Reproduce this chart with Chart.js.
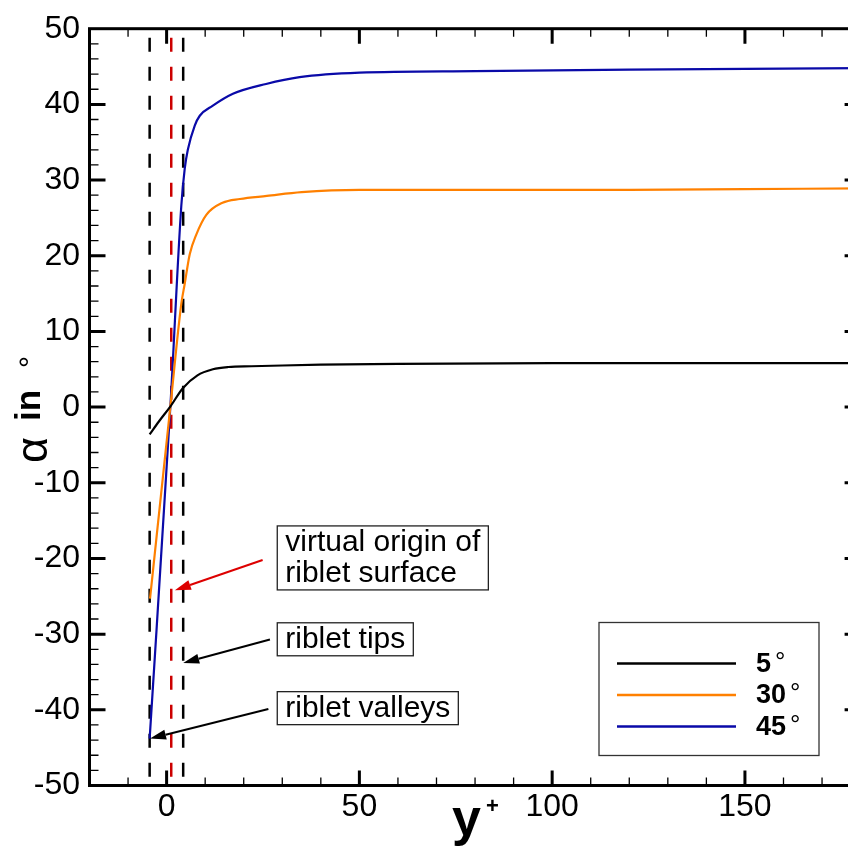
<!DOCTYPE html>
<html>
<head>
<meta charset="utf-8">
<script src="https://cdn.jsdelivr.net/npm/chart.js@4.4.1/dist/chart.umd.min.js"></script>
<style>
  html, body { margin: 0; padding: 0; background: #fff; overflow: hidden; }
  canvas { display: block; }
</style>
</head>
<body>
<canvas id="alpha-chart" width="862" height="848"></canvas>
<script>
// values (y+ against flow angle alpha)
const yPlus5  = [-4.4, -2, 1, 4.2, 8, 12, 16, 22, 30, 40, 60, 100, 140, 180];
const alpha5  = [-3.6, -1.9, 0.1, 2.5, 4.2, 5.0, 5.3, 5.4, 5.5, 5.6, 5.7, 5.8, 5.8, 5.8];

const yPlus30 = [-4.3, 1, 3.8, 4.7, 6, 7.7, 10.3, 14.5, 19, 26, 35, 50, 80, 120, 150, 180];
const alpha30 = [-25.3, 0.2, 13.6, 16.3, 20.2, 22.8, 25.4, 27, 27.5, 27.9, 28.4, 28.7, 28.7, 28.7, 28.8, 28.9];

const yPlus45 = [-4.4, 1, 3.8, 4.7, 5.5, 7.3, 8.6, 11.9, 17.2, 25.8, 34.5, 50, 80, 120, 150, 180];
const alpha45 = [-43.8, 0.3, 26.5, 31.5, 34, 37.2, 38.5, 39.8, 41.4, 42.7, 43.6, 44.2, 44.4, 44.6, 44.7, 44.8];

const seriesLabels = ['5', '30', '45'];

// vertical reference lines: riblet valleys, virtual origin, riblet tips
const markerX = [-4.4, 1.2, 4.3];
const markerTop = 48.8;

const xTicks = [0, 50, 100, 150];
const yTicks = [-50, -40, -30, -20, -10, 0, 10, 20, 30, 40, 50];

const FONT = '"Liberation Sans", Arial, Helvetica, sans-serif';
const colors = ['#000000', '#ff8000', '#0a0aa8'];

function pts(xs, ys) {
  return xs.map((x, i) => ({x: x, y: ys[i]}));
}

let datasets = [
  {label: seriesLabels[0], data: pts(yPlus5, alpha5), borderColor: colors[0]},
  {label: seriesLabels[1], data: pts(yPlus30, alpha30), borderColor: colors[1]},
  {label: seriesLabels[2], data: pts(yPlus45, alpha45), borderColor: colors[2]}
].map(d => Object.assign(d, {
  showLine: true, pointRadius: 0, borderWidth: 2.2,
  cubicInterpolationMode: 'monotone', isSeries: true
}));

markerX.forEach((x, i) => {
  datasets.push({
    label: 'marker' + i,
    data: [{x: x, y: markerTop}, {x: x, y: -50}],
    showLine: true, pointRadius: 0, borderWidth: 2.5,
    borderColor: i === 1 ? '#cc0000' : '#000000',
    borderDash: [14, 15]
  });
});

// annotation boxes and arrows (positions in data units)
const notes = [
  {lines: ['virtual origin of', 'riblet surface'], at: [28.7, -15.7],
   from: [24.9, -20.2], to: [2.15, -24.2], color: '#dd0000'},
  {lines: ['riblet tips'], at: [28.7, -28.5],
   from: [26.8, -30.7], to: [4.3, -33.8], color: '#000000'},
  {lines: ['riblet valleys'], at: [28.7, -37.6],
   from: [26.4, -39.9], to: [-4.3, -43.8], color: '#000000'}
];

function arrow(ctx, x1, y1, x2, y2, color) {
  const ang = Math.atan2(y2 - y1, x2 - x1);
  const len = 16, hw = 5;
  const bx = x2 - len * Math.cos(ang), by = y2 - len * Math.sin(ang);
  ctx.strokeStyle = color; ctx.fillStyle = color; ctx.lineWidth = 2;
  ctx.beginPath(); ctx.moveTo(x1, y1); ctx.lineTo(bx, by); ctx.stroke();
  ctx.beginPath();
  ctx.moveTo(x2, y2);
  ctx.lineTo(bx + hw * Math.sin(ang), by - hw * Math.cos(ang));
  ctx.lineTo(bx - hw * Math.sin(ang), by + hw * Math.cos(ang));
  ctx.closePath(); ctx.fill();
}

const decor = {
  id: 'decor',
  afterDraw(chart) {
    const ctx = chart.ctx, a = chart.chartArea;
    const xs = chart.scales.x, ys = chart.scales.y;
    ctx.save();
    ctx.strokeStyle = '#000';
    // inward ticks
    for (let v = -10; v < 180; v += 10) {
      const px = xs.getPixelForValue(v);
      const major = v % 50 === 0;
      const len = major ? 15 : 8;
      ctx.lineWidth = major ? 3 : 1.3;
      ctx.beginPath();
      ctx.moveTo(px, a.bottom); ctx.lineTo(px, a.bottom - len);
      ctx.moveTo(px, a.top); ctx.lineTo(px, a.top + len);
      ctx.stroke();
    }
    for (let v = -48; v < 50; v += 2) {
      const py = ys.getPixelForValue(v);
      const major = v % 10 === 0;
      const len = major ? 16 : 9;
      ctx.lineWidth = major ? 3 : 1.3;
      ctx.beginPath();
      ctx.moveTo(a.left, py); ctx.lineTo(a.left + len, py);
      ctx.moveTo(a.right, py); ctx.lineTo(a.right - len, py);
      ctx.stroke();
    }
    ctx.lineWidth = 3;
    ctx.strokeRect(a.left, a.top, a.right - a.left, a.bottom - a.top);

    // annotations
    ctx.font = '30px ' + FONT;
    ctx.textBaseline = 'alphabetic';
    ctx.textAlign = 'left';
    notes.forEach(n => {
      arrow(ctx, xs.getPixelForValue(n.from[0]), ys.getPixelForValue(n.from[1]),
            xs.getPixelForValue(n.to[0]), ys.getPixelForValue(n.to[1]), n.color);
      const bx = xs.getPixelForValue(n.at[0]), by = ys.getPixelForValue(n.at[1]);
      const w = Math.max(...n.lines.map(t => ctx.measureText(t).width)) + 16;
      const h = n.lines.length * 31 + 2;
      ctx.fillStyle = '#fff';
      ctx.fillRect(bx, by, w, h);
      ctx.strokeStyle = '#222'; ctx.lineWidth = 1.3;
      ctx.strokeRect(bx, by, w, h);
      ctx.fillStyle = '#000';
      n.lines.forEach((t, i) => ctx.fillText(t, bx + 8, by + 25 + i * 31));
    });

    // legend
    const lx = 599, ly = 622.5, lw = 220, lh = 133;
    ctx.fillStyle = '#fff'; ctx.fillRect(lx, ly, lw, lh);
    ctx.strokeStyle = '#333'; ctx.lineWidth = 1.3; ctx.strokeRect(lx, ly, lw, lh);
    chart.data.datasets.filter(d => d.isSeries).forEach((d, i) => {
      const ry = ly + 41 + i * 31.5;
      ctx.strokeStyle = d.borderColor; ctx.lineWidth = 2.5;
      ctx.beginPath(); ctx.moveTo(617, ry); ctx.lineTo(736, ry); ctx.stroke();
      ctx.fillStyle = '#000';
      ctx.font = 'bold 27px ' + FONT;
      ctx.textBaseline = 'middle';
      ctx.fillText(d.label, 756, ry + 1);
      const tw = ctx.measureText(d.label).width;
      ctx.font = '26px ' + FONT;
      ctx.fillText('\u00b0', 756 + tw + 4, ry - 1);
    });

    // axis titles
    ctx.textBaseline = 'alphabetic';
    ctx.font = 'bold 52px ' + FONT;
    ctx.fillText('y', 452, 835);
    ctx.font = 'bold 22px ' + FONT;
    ctx.fillText('+', 486, 813);
    ctx.rotate(-Math.PI / 2);
    ctx.font = '45px ' + FONT;
    ctx.fillText('\u03b1', -463, 47);
    ctx.font = 'bold 35px ' + FONT;
    ctx.fillText('in', -421, 40);
    ctx.font = '30px ' + FONT;
    ctx.fillText('\u00b0', -368, 40);
    ctx.restore();
  }
};

new Chart(document.getElementById('alpha-chart'), {
  type: 'scatter',
  data: {datasets: datasets},
  options: {
    responsive: false,
    animation: false,
    devicePixelRatio: 1,
    layout: {padding: {top: 22.5, right: 1.4, left: 0, bottom: 0}},
    plugins: {legend: {display: false}, tooltip: {enabled: false}},
    scales: {
      x: {
        type: 'linear', min: -20, max: 180,
        afterFit: s => { s.height = 62.5; },
        afterBuildTicks: s => { s.ticks = xTicks.map(v => ({value: v})); },
        grid: {display: false, drawTicks: false},
        border: {display: false},
        ticks: {autoSkip: false, maxRotation: 0, padding: 2, color: '#000',
                font: {family: FONT, size: 32}}
      },
      y: {
        type: 'linear', min: -50, max: 50,
        afterFit: s => { s.width = 89.5; },
        afterBuildTicks: s => { s.ticks = yTicks.map(v => ({value: v})); },
        grid: {display: false, drawTicks: false},
        border: {display: false},
        ticks: {autoSkip: false, padding: 9.5, color: '#000',
                font: {family: FONT, size: 32}}
      }
    }
  },
  plugins: [decor]
});
</script>
</body>
</html>
